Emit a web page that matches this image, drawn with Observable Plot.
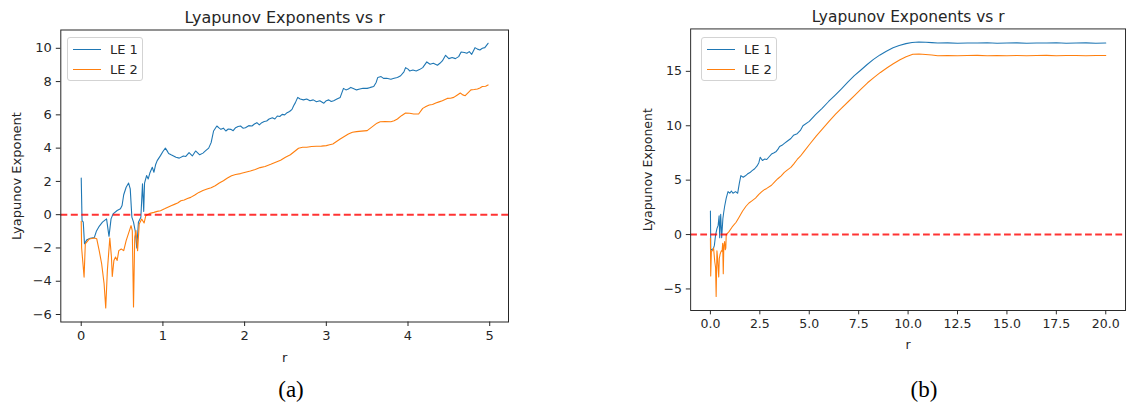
<!DOCTYPE html>
<html><head><meta charset="utf-8">
<script src="https://cdn.jsdelivr.net/npm/d3@7"></script>
<script src="https://cdn.jsdelivr.net/npm/@observablehq/plot@0.6"></script>
<style>
html,body{margin:0;padding:0;}
body{width:1140px;height:407px;overflow:hidden;background:#fff;position:relative;font-family:"DejaVu Sans",sans-serif;}
.panel{position:absolute;top:0;}
.legend{position:absolute;border:1px solid #d3d3d3;border-radius:3px;background:#fff;box-sizing:border-box;}
.legend .sw{position:absolute;height:0;border-top:1.3px solid;}
.legend .lb{position:absolute;font-size:13px;color:#262626;transform:translateY(-50%);white-space:nowrap;}
.caption{position:absolute;font-family:"Liberation Serif","DejaVu Serif",serif;font-size:23px;color:#000;transform:translate(-50%,-50%);}
</style></head><body>
<script>
// ---- texts ----
const seriesNames = ["LE 1", "LE 2"];
const seriesColors = ["#1f77b4", "#ff7f0e"];
const titleText = "Lyapunov Exponents vs r";
const yLabelText = "Lyapunov Exponent";
const xLabelText = "r";
const captions = ["(a)", "(b)"];

// ---- ticks ----
const aXTicks = [0, 1, 2, 3, 4, 5];
const aYTicks = [-6, -4, -2, 0, 2, 4, 6, 8, 10];
const bXTicks = [0, 2.5, 5, 7.5, 10, 12.5, 15, 17.5, 20];
const bYTicks = [-5, 0, 5, 10, 15];
const zeroLine = [0];

// ---- panel (a): r in [0,5] ----
const aR1 = [0,0.01,0.025,0.04,0.07,0.11,0.16,0.185,0.22,0.26,0.31,0.34,0.365,0.39,0.44,0.48,0.50,0.52,0.55,0.58,0.60,0.62,0.64,0.66,0.68,0.70,0.73,0.74,0.75,0.765,0.775,0.80,0.82,0.84,0.87,0.89,0.91,0.93,0.95,0.97,1.00,1.03,1.05,1.07,1.10,1.13,1.16,1.20,1.25,1.28,1.32,1.36,1.40,1.45,1.49,1.52,1.56,1.59,1.62,1.66,1.69,1.71,1.74,1.77,1.80,1.83,1.86,1.89,1.92,1.95,1.98,2.01,2.05,2.09,2.12,2.15,2.18,2.21,2.24,2.27,2.30,2.34,2.37,2.40,2.43,2.46,2.49,2.52,2.55,2.58,2.60,2.62,2.65,2.68,2.72,2.76,2.80,2.84,2.88,2.92,2.97,3.00,3.03,3.06,3.09,3.13,3.17,3.21,3.24,3.27,3.30,3.33,3.37,3.41,3.45,3.50,3.54,3.58,3.61,3.63,3.67,3.70,3.74,3.79,3.83,3.87,3.91,3.95,3.97,4.00,4.02,4.06,4.10,4.14,4.18,4.23,4.27,4.31,4.36,4.39,4.42,4.46,4.50,4.54,4.58,4.62,4.65,4.69,4.72,4.75,4.78,4.82,4.85,4.88,4.91,4.94,4.98];
const aLE1 = [2.2,-0.35,-0.45,-1.75,-1.5,-1.42,-1.38,-1.0,-0.7,-0.45,-0.25,-1.3,-0.25,0.05,0.25,0.35,0.55,1.2,1.65,1.9,1.55,-0.15,-0.45,-0.95,-2.0,-0.45,-0.15,0.85,1.85,0.2,1.9,2.35,2.15,2.5,2.85,2.55,3.0,3.25,3.4,3.55,3.8,4.0,3.85,3.68,3.6,3.53,3.45,3.4,3.53,3.5,3.73,3.53,3.83,3.6,3.7,3.83,4.0,4.33,5.03,5.33,5.2,5.13,5.2,5.03,5.15,5.13,5.05,5.23,5.3,5.33,5.2,5.23,5.35,5.33,5.45,5.53,5.4,5.53,5.6,5.63,5.75,5.83,5.75,5.93,5.9,6.03,6.0,6.13,6.2,6.33,6.55,6.72,7.05,6.95,6.9,6.95,6.85,6.9,6.79,6.85,6.7,6.85,6.9,6.8,6.85,6.95,7.05,7.59,7.5,7.55,7.65,7.59,7.5,7.55,7.6,7.59,7.65,7.7,7.95,8.25,8.3,8.19,8.2,8.14,8.2,8.25,8.35,8.58,8.84,8.75,8.64,8.7,8.64,8.72,8.84,9.18,9.04,9.1,8.98,9.1,9.24,9.58,9.38,9.45,9.38,9.5,9.78,9.75,9.7,9.8,9.64,10.04,9.95,9.9,10.0,10.04,10.3];
const aR2 = [0,0.005,0.035,0.05,0.10,0.16,0.19,0.22,0.25,0.28,0.30,0.32,0.35,0.37,0.38,0.40,0.42,0.44,0.46,0.49,0.52,0.55,0.59,0.61,0.625,0.64,0.655,0.67,0.69,0.71,0.74,0.77,0.79,0.84,0.89,0.93,0.97,1.02,1.06,1.10,1.14,1.18,1.22,1.26,1.30,1.34,1.39,1.44,1.49,1.54,1.59,1.64,1.69,1.74,1.79,1.84,1.89,1.95,2.01,2.07,2.13,2.19,2.25,2.32,2.38,2.44,2.50,2.56,2.61,2.66,2.71,2.76,2.82,2.88,2.94,3.00,3.04,3.08,3.12,3.17,3.22,3.27,3.32,3.37,3.43,3.50,3.54,3.58,3.62,3.66,3.72,3.79,3.83,3.87,3.92,3.97,4.02,4.07,4.13,4.18,4.22,4.26,4.30,4.34,4.38,4.42,4.48,4.52,4.56,4.60,4.64,4.67,4.70,4.74,4.77,4.81,4.85,4.88,4.91,4.95,4.98];
const aLE2 = [-0.4,-2.0,-3.75,-1.75,-1.46,-1.4,-1.45,-2.16,-2.95,-4.15,-5.6,-3.35,-1.4,-2.56,-3.71,-2.75,-2.55,-2.75,-2.16,-2.06,-2.16,-1.56,-0.96,-0.66,-0.96,-5.55,-1.35,-0.96,-2.16,-0.56,-0.26,-0.5,-0.06,0.08,0.14,0.2,0.24,0.35,0.45,0.54,0.62,0.7,0.84,0.88,0.97,1.04,1.18,1.34,1.45,1.54,1.62,1.74,1.9,2.04,2.2,2.34,2.42,2.47,2.55,2.63,2.72,2.83,2.9,3.03,3.15,3.27,3.45,3.6,3.8,3.99,4.05,4.05,4.1,4.11,4.12,4.15,4.2,4.25,4.38,4.55,4.7,4.85,4.95,4.99,5.02,5.05,5.2,5.35,5.5,5.59,5.6,5.59,5.65,5.75,5.95,6.11,6.1,6.05,6.05,6.39,6.5,6.59,6.62,6.71,6.78,6.85,6.99,7.0,7.05,7.18,7.31,7.2,7.15,7.35,7.5,7.52,7.55,7.62,7.7,7.72,7.8];

// ---- panel (b): r in [0,20] ----
const bR1 = [0,0.02,0.05,0.15,0.20,0.26,0.33,0.39,0.44,0.47,0.52,0.57,0.63,0.67,0.72,0.80,0.89,0.98,1.06,1.14,1.27,1.38,1.46,1.54,1.66,1.77,1.87,2.0,2.11,2.24,2.36,2.45,2.52,2.63,2.75,2.85,2.97,3.09,3.2,3.33,3.42,3.5,3.62,3.74,3.9,4.07,4.2,4.39,4.55,4.68,5.0,5.33,5.65,5.98,6.3,6.63,6.95,7.28,7.6,7.93,8.25,8.58,8.9,9.24,9.55,9.89,10.2,10.54,10.9,11.2,11.5,12,12.5,13,13.5,14,14.5,15,15.5,16,16.5,17,17.5,18,18.5,19,19.5,20];
const bLE1 = [2.17,-1.5,-1.4,-1.3,-1.0,-0.05,0.55,0.84,1.73,-0.3,1.87,-0.3,1.45,2.0,2.6,3.35,3.95,3.8,4.0,3.8,3.95,3.8,4.68,5.42,5.27,5.4,5.56,5.7,5.87,6.05,6.31,6.6,7.11,6.81,6.95,6.9,7.15,7.4,7.5,7.64,7.85,8.09,8.2,8.38,8.6,8.83,9.12,9.27,9.57,10.0,10.4,11.05,11.6,12.23,12.8,13.4,14.0,14.6,15.1,15.63,16.1,16.51,16.85,17.17,17.38,17.55,17.65,17.7,17.68,17.64,17.6,17.62,17.58,17.61,17.6,17.63,17.58,17.6,17.62,17.59,17.61,17.6,17.63,17.58,17.6,17.62,17.59,17.6];
const bR2 = [0,0.015,0.05,0.10,0.16,0.22,0.26,0.29,0.33,0.36,0.42,0.45,0.49,0.55,0.59,0.62,0.65,0.68,0.72,0.75,0.78,0.80,0.93,1.1,1.3,1.45,1.63,1.8,1.95,2.1,2.28,2.45,2.6,2.75,2.85,3.09,3.25,3.41,3.58,3.74,3.9,4.07,4.22,4.39,4.55,4.72,5.02,5.35,5.67,6.0,6.32,6.65,6.98,7.3,7.63,7.95,8.28,8.6,8.94,9.25,9.59,9.9,10.24,10.55,10.89,11.2,11.5,12,12.5,13,13.5,14,14.5,15,15.5,16,16.5,17,17.5,18,18.5,19,19.5,20];
const bLE2 = [-0.35,-3.8,-1.53,-1.5,-1.24,-2.5,-3.0,-5.7,-1.5,-2.1,-3.9,-2.2,-1.8,-1.5,-1.53,-0.8,-3.6,-1.0,-0.65,-1.4,-1.25,0.0,0.25,0.7,1.13,1.6,2.17,2.6,2.9,3.1,3.35,3.7,3.95,4.15,4.24,4.53,4.85,5.13,5.4,5.72,5.95,6.17,6.5,6.9,7.2,7.6,8.3,9.05,9.72,10.4,11.05,11.65,12.23,12.8,13.4,13.95,14.45,14.9,15.33,15.7,16.07,16.35,16.57,16.6,16.55,16.5,16.44,16.46,16.43,16.45,16.47,16.44,16.45,16.43,16.46,16.44,16.45,16.47,16.43,16.45,16.46,16.44,16.45,16.45];

const minusFmt = d => (d < 0 ? "\u2212" + Math.abs(d) : String(d));
const oneDec = d => d3.format(".1f")(d).replace("-", "\u2212");

function toRows(rs, vs) { return rs.map((r, i) => ({r, v: vs[i]})); }

function panel(cfg) {
  const ink = "#262626";
  const svg = Plot.plot({
    width: cfg.width, height: 407,
    marginLeft: cfg.ml, marginRight: cfg.mr, marginTop: 29.5, marginBottom: 85.5,
    x: {domain: cfg.xDomain},
    y: {domain: cfg.yDomain},
    style: {fontFamily: "DejaVu Sans", fontSize: "13px", color: ink, background: "transparent", overflow: "visible"},
    marks: [
      Plot.line(toRows(cfg.r1, cfg.v1), {x: "r", y: "v", stroke: seriesColors[0], strokeWidth: 1.1}),
      Plot.line(toRows(cfg.r2, cfg.v2), {x: "r", y: "v", stroke: seriesColors[1], strokeWidth: 1.1}),
      Plot.ruleY(zeroLine, {stroke: "#ff0000", strokeOpacity: 0.8, strokeWidth: 2, strokeDasharray: "7,3.5"}),
      Plot.frame({stroke: ink, strokeWidth: 1}),
      Plot.axisX({ticks: cfg.xTicks, tickFormat: cfg.xFmt, tickSize: 4.5, tickPadding: 4.5, fontSize: 13, label: null}),
      Plot.axisY({ticks: cfg.yTicks, tickFormat: minusFmt, tickSize: 4.5, tickPadding: 4.5, fontSize: 13, label: null}),
      Plot.text([titleText], {text: d => d, frameAnchor: "top", dy: -12.5, lineAnchor: "middle", textAnchor: "middle", fontSize: 16, fill: ink}),
      Plot.text([yLabelText], {text: d => d, frameAnchor: "left", dx: -44, rotate: -90, lineAnchor: "middle", textAnchor: "middle", fontSize: 13, fill: ink}),
      Plot.text([xLabelText], {text: d => d, frameAnchor: "bottom", dy: 35.5, lineAnchor: "middle", textAnchor: "middle", fontSize: 13, fill: ink})
    ]
  });
  const wrap = document.createElement("div");
  wrap.className = "panel";
  wrap.style.left = cfg.left + "px";
  wrap.appendChild(svg);
  document.body.appendChild(wrap);

  // legend
  const lg = document.createElement("div");
  lg.className = "legend";
  lg.style.left = cfg.legendLeft + "px";
  lg.style.top = "36.5px";
  lg.style.width = "76px";
  lg.style.height = "44px";
  seriesNames.forEach((name, i) => {
    const sw = document.createElement("div");
    sw.className = "sw";
    sw.style.left = "5px"; sw.style.width = "27.5px";
    sw.style.top = (11.2 + i * 20) + "px";
    sw.style.borderTopColor = seriesColors[i];
    lg.appendChild(sw);
    const lb = document.createElement("div");
    lb.className = "lb";
    lb.style.left = "42px";
    lb.style.top = (11.8 + i * 20) + "px";
    lb.textContent = name;
    lg.appendChild(lb);
  });
  document.body.appendChild(lg);

  const cap = document.createElement("div");
  cap.className = "caption";
  cap.style.left = cfg.capX + "px";
  cap.style.top = "390px";
  cap.textContent = cfg.caption;
  document.body.appendChild(cap);
}

panel({left: 0, width: 540, ml: 60.3, mr: 32, xDomain: [-0.25, 5.23], yDomain: [-6.45, 11.1],
  xTicks: aXTicks, yTicks: aYTicks, xFmt: minusFmt, r1: aR1, v1: aLE1, r2: aR2, v2: aLE2,
  legendLeft: 67, capX: 291, caption: captions[0]});
panel({left: 600, width: 560, ml: 93.5, mr: 15.5, xDomain: [-1, 21], yDomain: [-6.98, 18.9],
  xTicks: bXTicks, yTicks: bYTicks, xFmt: oneDec, r1: bR1, v1: bLE1, r2: bR2, v2: bLE2,
  legendLeft: 701, capX: 924, caption: captions[1]});
</script>
</body></html>
